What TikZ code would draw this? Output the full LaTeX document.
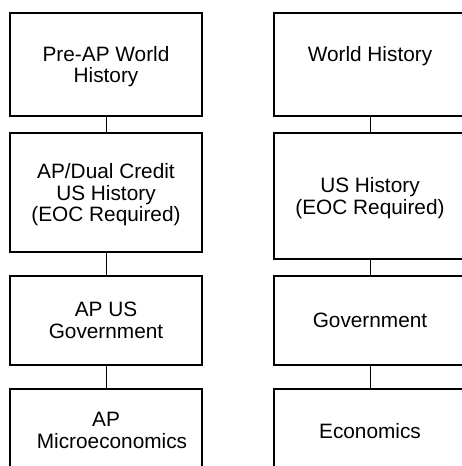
\documentclass[tikz,border=0pt]{standalone}
\usepackage{fontspec}
\setmainfont{Liberation Sans}
\begin{document}
\begin{tikzpicture}[x=1pt,y=-1pt,
  box/.style={draw=black, line width=1.8pt, minimum width=192pt, inner sep=0pt,
    align=center, text depth=0pt, font=\fontsize{20.8}{21.8}\selectfont},
  link/.style={draw=black, line width=0.9pt}]
\useasboundingbox (0,0) rectangle (462,466);
\clip (0,0) rectangle (462,466);
% left column
\node[box, minimum height=103pt] (L1) at (106,64.5) {Pre-AP World\\History};
\node[box, minimum height=119pt] (L2) at (106,192.5) {AP/Dual Credit\\US History\\(EOC Required)};
\node[box, minimum height=89pt] (L3) at (106,320.5) {AP US\\Government};
\node[box, minimum height=83pt] (L4) at (106,430.5) {AP\\\hspace*{12pt}Microeconomics};
% right column
\node[box, minimum height=103pt] (R1) at (370,64.5) {World History\\\phantom{H}};
\node[box, minimum height=126pt] (R2) at (370,196) {US History\\(EOC Required)};
\node[box, minimum height=89pt] (R3) at (370,320.5) {Government};
\node[box, minimum height=83pt] (R4) at (370,430.5) {Economics};
% connectors
\draw[link] (L1.south) -- (L2.north);
\draw[link] (L2.south) -- (L3.north);
\draw[link] (L3.south) -- (L4.north);
\draw[link] (R1.south) -- (R2.north);
\draw[link] (R2.south) -- (R3.north);
\draw[link] (R3.south) -- (R4.north);
\end{tikzpicture}
\end{document}
